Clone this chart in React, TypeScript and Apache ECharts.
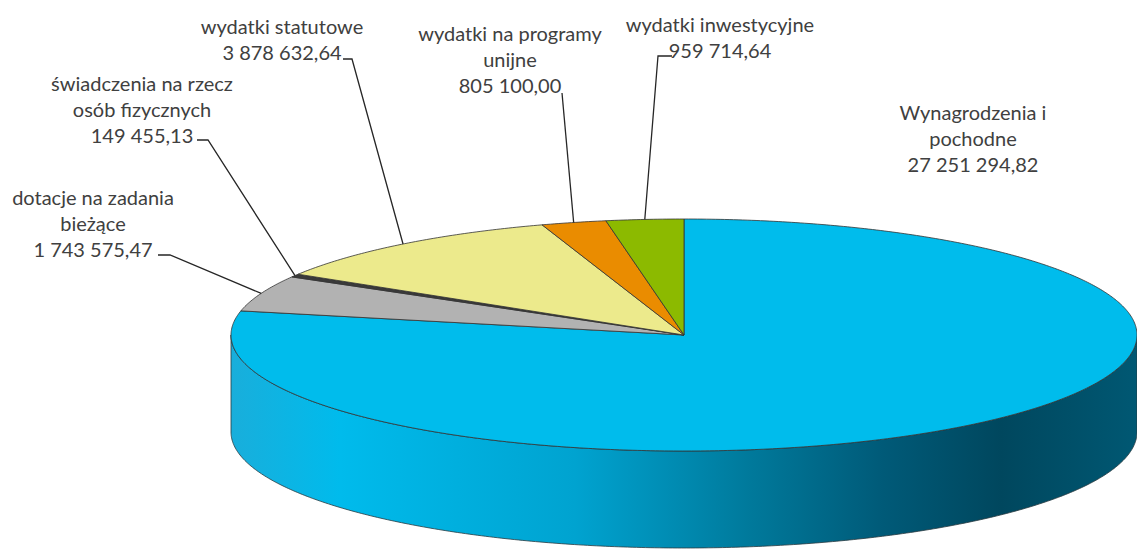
import React, { useEffect, useRef } from 'react';
import * as echarts from 'echarts';

const categories = [
  'Wynagrodzenia i pochodne',
  'dotacje na zadania bieżące',
  'świadczenia na rzecz osób fizycznych',
  'wydatki statutowe',
  'wydatki na programy unijne',
  'wydatki inwestycyjne',
];
const labelLines = [
  ['Wynagrodzenia i', 'pochodne'],
  ['dotacje na zadania', 'bieżące'],
  ['świadczenia na rzecz', 'osób fizycznych'],
  ['wydatki statutowe'],
  ['wydatki na programy', 'unijne'],
  ['wydatki inwestycyjne'],
];
const values = [27251294.82, 1743575.47, 149455.13, 3878632.64, 805100.0, 959714.64];
const colors = ['#00bcec', '#b2b2b2', '#3a3a3a', '#ecea8c', '#ea8c00', '#8cba00'];

// geometry (pixels)
const CX = 684, CY = 335, RX = 453, RY = 116, DEPTH = 97;
const LINE_H = 26;
const labelLayout: { x: number; y: number; leader: number[][] | null }[] = [
  { x: 973, y: 112, leader: null },
  { x: 93, y: 197, leader: [[158, 255], [170, 255]] },
  { x: 142, y: 83, leader: [[197, 140], [208, 140]] },
  { x: 282, y: 26, leader: [[343, 59], [352, 59]] },
  { x: 510, y: 33, leader: [[562, 93]] },
  { x: 720, y: 24, leader: [[672, 56], [658, 56]] },
];

function fmt(v: number) {
  const [i, d] = v.toFixed(2).split('.');
  return i.replace(/\B(?=(\d{3})+(?!\d))/g, ' ') + ',' + d;
}

function pt(t: number, dy = 0) {
  return [CX + RX * Math.sin(t), CY - RY * Math.cos(t) + dy];
}

function arc(a: number, b: number, dy = 0) {
  const pts: number[][] = [];
  const n = Math.max(2, Math.ceil(Math.abs(b - a) / 0.01));
  for (let k = 0; k <= n; k++) pts.push(pt(a + ((b - a) * k) / n, dy));
  return pts;
}

export default function App() {
  const ref = useRef<HTMLDivElement>(null);
  useEffect(() => {
    if (!ref.current) return;
    const chart = echarts.init(ref.current, null, { renderer: 'svg' });
    const total = values.reduce((s, v) => s + v, 0);
    const renderItem = (params: any, api: any) => {
      const i = params.dataIndex;
      let before = 0;
      for (let k = 0; k < i; k++) before += values[k];
      const v = api.value(0);
      const start = (before / total) * Math.PI * 2;
      const end = ((before + v) / total) * Math.PI * 2;
      const children: any[] = [];
      // front wall
      const wa = Math.max(start, Math.PI / 2);
      const wb = Math.min(end, (Math.PI * 3) / 2);
      if (wb > wa) {
        const top = arc(wa, wb);
        const bot = arc(wb, wa, DEPTH);
        children.push({
          type: 'polygon',
          z2: 1,
          shape: { points: top.concat(bot) },
          style: {
            fill: new echarts.graphic.LinearGradient(0, 0, 1, 0, [
              { offset: 0, color: '#19aedb' },
              { offset: 0.12, color: '#00bbec' },
              { offset: 0.38, color: '#00a3d0' },
              { offset: 0.57, color: '#007a9c' },
              { offset: 0.72, color: '#005a78' },
              { offset: 0.85, color: '#00475e' },
              { offset: 1, color: '#005873' },
            ]),
            stroke: '#2a3a40',
            lineWidth: 0.8,
          },
        });
      }
      // top face
      children.push({
        type: 'polygon',
        z2: 2,
        shape: { points: [[CX, CY]].concat(arc(start, end)) },
        style: { fill: colors[i], stroke: '#333333', lineWidth: 0.8 },
      });
      // label
      const lay = labelLayout[i];
      const lines = labelLines[i].concat([fmt(v)]);
      children.push({
        type: 'text',
        z2: 5,
        x: lay.x,
        y: lay.y - LINE_H / 2,
        style: {
          text: lines.join('\n'),
          fill: '#404040',
          fontSize: 20,
          fontFamily: 'Lato',
          align: 'center',
          verticalAlign: 'top',
          lineHeight: LINE_H,
        },
      });
      if (lay.leader) {
        const mid = pt((start + end) / 2);
        children.push({
          type: 'polyline',
          z2: 4,
          shape: { points: lay.leader.concat([mid]) },
          style: { stroke: '#262626', lineWidth: 1.3, fill: 'none' },
        });
      }
      return { type: 'group', children };
    };
    chart.setOption({
      animation: false,
      backgroundColor: '#ffffff',
      series: [
        {
          type: 'custom',
          coordinateSystem: 'none',
          silent: true,
          renderItem,
          data: values.map((v, i) => ({ name: categories[i], value: v })),
        },
      ],
    });
    return () => chart.dispose();
  }, []);
  return (
    <div
      ref={ref}
      style={{ position: 'fixed', left: 0, top: 0, width: 1137, height: 552, background: '#fff' }}
    />
  );
}
